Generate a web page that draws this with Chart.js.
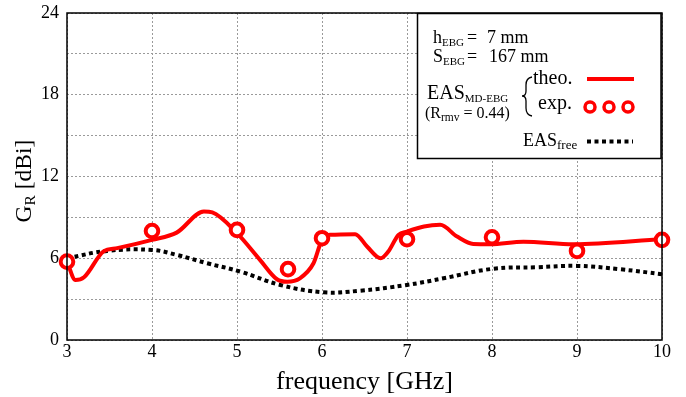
<!DOCTYPE html>
<html><head><meta charset="utf-8">
<script src="https://cdn.jsdelivr.net/npm/chart.js@4/dist/chart.umd.min.js"></script>
<style>html,body{margin:0;padding:0;background:#fff}#wrap{width:686px;height:397px;position:relative}</style>
</head><body><div id="wrap"><canvas id="c" width="686" height="397"></canvas></div>
<script>
// ---- data ----
const theoFreq = [3.0, 3.1, 3.2, 3.43, 3.59, 4.0, 4.29, 4.61, 4.71, 5.0, 5.27, 5.47, 5.59, 5.74, 5.9, 6.0, 6.1, 6.39, 6.53, 6.69, 6.78, 6.9, 7.0, 7.2, 7.39, 7.59, 7.78, 7.98, 8.37, 8.96, 10.0];
const theoGain = [5.75, 4.4, 4.6, 6.5, 6.74, 7.35, 7.88, 9.43, 9.36, 7.84, 5.88, 4.46, 4.28, 4.53, 5.63, 7.35, 7.72, 7.77, 6.86, 6.0, 6.49, 7.72, 7.96, 8.33, 8.45, 7.59, 7.05, 7.03, 7.22, 7.03, 7.4];
const expFreq = [3, 4, 5, 5.6, 6, 7, 8, 9, 10];
const expGain = [5.75, 8.0, 8.08, 5.2, 7.47, 7.4, 7.54, 6.54, 7.35];
const freeFreq = [3.0, 3.47, 4.0, 4.29, 4.65, 5.04, 5.51, 6.02, 6.45, 7.0, 7.43, 8.0, 8.53, 9.0, 9.51, 10.0];
const freeGain = [6.0, 6.54, 6.61, 6.25, 5.63, 5.02, 4.04, 3.5, 3.62, 4.04, 4.53, 5.22, 5.34, 5.44, 5.19, 4.83];
const yTickLabels = [0, 6, 12, 18, 24];
const xTickLabels = [3, 4, 5, 6, 7, 8, 9, 10];

const SERIF = '"Liberation Serif", "Times New Roman", serif';
const RED = '#ff0000';
const pts = (xs, ys) => xs.map((x, i) => ({x, y: ys[i]}));

function rich(ctx, x, y, parts) {
  let cx = x;
  for (const p of parts) {
    ctx.font = p.s + 'px ' + SERIF;
    ctx.fillText(p.t, cx, y + (p.dy || 0));
    cx += ctx.measureText(p.t).width;
  }
  return cx;
}

const decor = {
  id: 'decor',
  afterDraw(chart) {
    const ctx = chart.ctx, a = chart.chartArea;
    ctx.save();
    // frame
    ctx.strokeStyle = '#000'; ctx.lineWidth = 1.5; ctx.setLineDash([]);
    ctx.strokeRect(a.left, a.top, a.right - a.left, a.bottom - a.top);
    // x title
    ctx.fillStyle = '#000'; ctx.textBaseline = 'alphabetic'; ctx.textAlign = 'center';
    ctx.font = '26px ' + SERIF;
    ctx.fillText('frequency [GHz]', (a.left + a.right) / 2, 389);
    // y title
    ctx.save();
    ctx.translate(31, 181);
    ctx.rotate(-Math.PI / 2);
    ctx.textAlign = 'left';
    const parts = [{t: 'G', s: 23.5}, {t: 'R', s: 15.5, dy: 4}, {t: ' [dBi]', s: 23.5}];
    let w = 0;
    for (const p of parts) { ctx.font = p.s + 'px ' + SERIF; w += ctx.measureText(p.t).width; }
    rich(ctx, -w / 2, 0, parts);
    ctx.restore();
    // legend box
    ctx.textAlign = 'left';
    ctx.fillStyle = '#fff';
    ctx.fillRect(417, 13, 244, 145);
    ctx.strokeStyle = '#000'; ctx.lineWidth = 1.5;
    ctx.strokeRect(417.5, 13.5, 243.5, 145);
    ctx.fillStyle = '#000';
    rich(ctx, 433, 43, [{t: 'h', s: 18}, {t: 'EBG', s: 11, dy: 3}]);
    rich(ctx, 467, 43, [{t: '= ', s: 18}]);
    rich(ctx, 487, 43, [{t: '7 mm', s: 18}]);
    rich(ctx, 433, 62, [{t: 'S', s: 18}, {t: 'EBG', s: 11, dy: 3}]);
    rich(ctx, 467, 62, [{t: '= ', s: 18}]);
    rich(ctx, 489, 62, [{t: '167 mm', s: 18}]);
    rich(ctx, 427, 99, [{t: 'EAS', s: 20}, {t: 'MD-EBG', s: 11, dy: 3}]);
    rich(ctx, 425, 118, [{t: '(R', s: 16}, {t: 'rmv', s: 11.5, dy: 3}, {t: ' = 0.44)', s: 16}]);
    // brace
    ctx.strokeStyle = '#000'; ctx.lineWidth = 1.3;
    ctx.beginPath();
    ctx.moveTo(532, 77);
    ctx.quadraticCurveTo(526, 78, 526, 85);
    ctx.lineTo(526, 91);
    ctx.quadraticCurveTo(526, 96, 522, 96);
    ctx.quadraticCurveTo(526, 96, 526, 101);
    ctx.lineTo(526, 108);
    ctx.quadraticCurveTo(526, 115, 532, 116);
    ctx.stroke();
    rich(ctx, 533, 84, [{t: 'theo.', s: 20}]);
    rich(ctx, 538, 109, [{t: 'exp.', s: 20}]);
    rich(ctx, 523, 146, [{t: 'EAS', s: 18}, {t: 'free', s: 13, dy: 3}]);
    // legend samples
    ctx.strokeStyle = RED; ctx.lineWidth = 4;
    ctx.beginPath(); ctx.moveTo(587, 79); ctx.lineTo(634, 79); ctx.stroke();
    ctx.lineWidth = 3.5; ctx.fillStyle = '#fff';
    for (const cx of [590, 609, 628]) {
      ctx.beginPath(); ctx.arc(cx, 107, 5, 0, Math.PI * 2); ctx.fill(); ctx.stroke();
    }
    ctx.strokeStyle = '#000'; ctx.lineWidth = 4; ctx.setLineDash([4, 3.5]);
    ctx.beginPath(); ctx.moveTo(587, 141.5); ctx.lineTo(633, 141.5); ctx.stroke();
    ctx.restore();
  }
};

new Chart(document.getElementById('c'), {
  type: 'scatter',
  data: {
    datasets: [
      {label: 'exp.', data: pts(expFreq, expGain), showLine: false,
       pointStyle: 'circle', pointRadius: 6.3, pointBorderWidth: 4,
       pointBorderColor: RED, pointBackgroundColor: '#fff', clip: false},
      {label: 'theo.', data: pts(theoFreq, theoGain), showLine: true,
       borderColor: RED, borderWidth: 4, pointRadius: 0, cubicInterpolationMode: 'monotone'},
      {label: 'EAS free', data: pts(freeFreq, freeGain), showLine: true,
       borderColor: '#000', borderWidth: 4, borderDash: [4, 3.5], borderCapStyle: 'butt',
       pointRadius: 0, tension: 0.4}
    ]
  },
  options: {
    responsive: false, animation: false, devicePixelRatio: 1,
    layout: {padding: {left: 0, top: 13, right: 24, bottom: 0}},
    plugins: {legend: {display: false}, tooltip: {enabled: false}},
    scales: {
      x: {type: 'linear', min: 3, max: 10,
          afterFit: s => { s.height = 57; s.paddingLeft = 0; s.paddingRight = 0; },
          afterBuildTicks: s => { s.ticks = xTickLabels.map(v => ({value: v})); },
          ticks: {stepSize: 1, color: '#000', padding: 1, font: {family: SERIF, size: 18},
                  callback: v => String(v), maxRotation: 0},
          grid: {color: '#9a9a9a', lineWidth: 1, drawTicks: false},
          border: {display: false, dash: [2, 2]}},
      y: {min: 0, max: 24,
          afterFit: s => { s.width = 67; s.paddingTop = 0; s.paddingBottom = 0; },
          ticks: {stepSize: 3, color: '#000', padding: 8, font: {family: SERIF, size: 18},
                  callback: v => yTickLabels.includes(v) ? String(v) : ''},
          grid: {color: '#9a9a9a', lineWidth: 1, drawTicks: false},
          border: {display: false, dash: [2, 2]}}
    }
  },
  plugins: [decor]
});
</script>
</body></html>
